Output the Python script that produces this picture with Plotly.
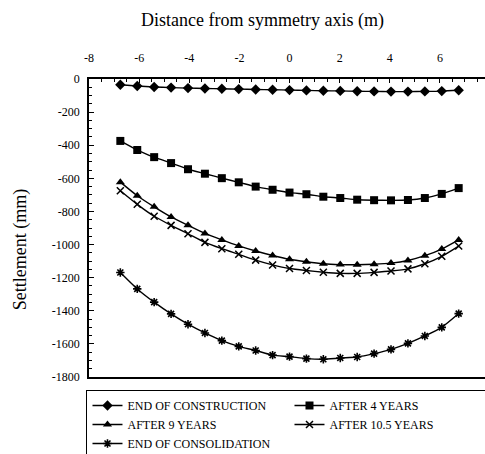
import plotly.graph_objects as go

# Horizontal position of each settlement point (m from the symmetry axis)
distance = [-6.75, -6.075, -5.4, -4.725, -4.05, -3.375, -2.7, -2.025, -1.35, -0.675,
            0.0, 0.675, 1.35, 2.025, 2.7, 3.375, 4.05, 4.725, 5.4, 6.075, 6.75]

# Settlement (mm) at each stage
end_of_construction = [-35, -42, -48, -52, -55, -57, -59, -61, -63, -65, -67,
                       -69, -71, -72, -74, -75, -76, -76, -75, -73, -68]
after_4_years = [-374, -429, -472, -508, -545, -572, -599, -624, -650, -669, -686,
                 -696, -711, -719, -729, -732, -733, -731, -719, -694, -659]
after_9_years = [-623, -705, -772, -833, -884, -933, -972, -1008, -1039, -1066, -1089,
                 -1104, -1116, -1121, -1122, -1119, -1112, -1096, -1067, -1027, -972]
after_10_5_years = [-675, -757, -829, -884, -935, -987, -1025, -1059, -1094, -1123, -1145,
                    -1157, -1167, -1174, -1174, -1168, -1160, -1147, -1116, -1071, -1009]
end_of_consolidation = [-1169, -1268, -1348, -1419, -1481, -1534, -1580, -1615, -1640, -1668, -1677,
                        -1689, -1693, -1685, -1679, -1659, -1633, -1597, -1552, -1500, -1417]

series_names = ["END OF CONSTRUCTION", "AFTER 4 YEARS", "AFTER 9 YEARS",
                "AFTER 10.5 YEARS", "END OF CONSOLIDATION"]
series_values = [end_of_construction, after_4_years, after_9_years,
                 after_10_5_years, end_of_consolidation]

x_tick_values = [-8, -6, -4, -2, 0, 2, 4, 6]
y_tick_values = [0, -200, -400, -600, -800, -1000, -1200, -1400, -1600, -1800]

marker_styles = [
    dict(symbol="diamond", size=8, color="black"),
    dict(symbol="square", size=8, color="black"),
    dict(symbol="triangle-up", size=8, color="black"),
    dict(symbol="x-thin-open", size=7, color="black", line=dict(width=1.5, color="black")),
    dict(symbol="asterisk-open", size=7, color="black", line=dict(width=1.6, color="black")),
]

SERIF = "Liberation Serif"

fig = go.Figure()
for name, values, mk in zip(series_names, series_values, marker_styles):
    fig.add_trace(go.Scatter(
        x=distance, y=values, name=name, mode="lines+markers",
        line=dict(color="black", width=1.4, shape="spline", smoothing=0.6),
        marker=mk,
    ))

fig.update_layout(
    width=485, height=454,
    margin=dict(l=89, r=0, t=79, b=77, autoexpand=False),
    paper_bgcolor="white", plot_bgcolor="white",
    font=dict(family=SERIF, color="black", size=12),
    showlegend=True,
    legend=dict(
        orientation="h", x=-0.0076, y=-0.042, xanchor="left", yanchor="top",
        entrywidth=157, entrywidthmode="pixels",
        bordercolor="black", borderwidth=1.5, bgcolor="white",
        font=dict(family=SERIF, size=12, color="black"),
        traceorder="normal",
    ),
    annotations=[
        dict(text="Distance from symmetry axis (m)", xref="paper", yref="paper",
             x=0.4369, y=1.195, xanchor="center", yanchor="middle", showarrow=False,
             font=dict(family=SERIF, size=18, color="black")),
        dict(text="Settlement (mm)", xref="paper", yref="paper",
             x=-0.174, y=0.426, xanchor="center", yanchor="middle", showarrow=False,
             textangle=-90, font=dict(family=SERIF, size=18, color="black")),
    ],
)

fig.update_xaxes(
    side="top", range=[-8, 7.8], tickvals=x_tick_values,
    ticktext=[str(v) for v in x_tick_values],
    showline=True, linecolor="black", linewidth=1.5, mirror=True,
    ticks="inside", ticklen=4, tickcolor="black", tickwidth=1.2,
    minor=dict(dtick=0.5, ticks="inside", ticklen=3, tickcolor="black", tickwidth=1.2),
    showgrid=False, zeroline=False, ticklabelstandoff=10,
    tickfont=dict(family=SERIF, size=12, color="black"),
)
fig.update_yaxes(
    range=[-1800, 0], tickvals=y_tick_values,
    ticktext=[str(v) for v in y_tick_values],
    showline=True, linecolor="black", linewidth=1.5, mirror=False,
    ticks="inside", ticklen=5, tickcolor="black", tickwidth=1.2,
    minor=dict(dtick=50, ticks="inside", ticklen=3, tickcolor="black", tickwidth=1.2),
    showgrid=False, zeroline=False, ticklabelstandoff=5,
    tickfont=dict(family=SERIF, size=12, color="black"),
)

fig.write_html("out.html")
